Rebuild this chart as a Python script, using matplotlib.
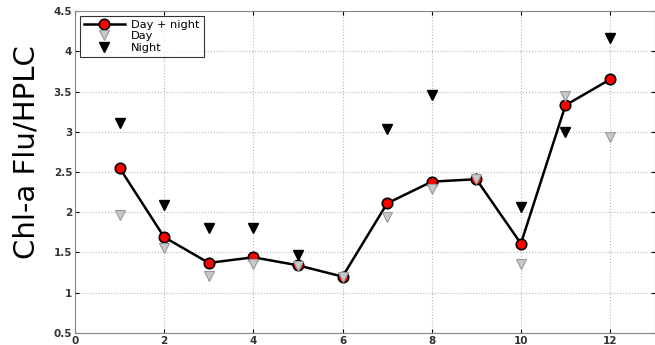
import numpy as np
import matplotlib
matplotlib.use("Agg")
import matplotlib.pyplot as plt

months = [1, 2, 3, 4, 5, 6, 7, 8, 9, 10, 11, 12]
day_night = [2.55, 1.69, 1.37, 1.44, 1.34, 1.20, 2.11, 2.38, 2.41, 1.61, 3.33, 3.65]
day = [1.97, 1.55, 1.21, 1.36, 1.33, 1.20, 1.94, 2.29, 2.41, 1.36, 3.45, 2.93]
night = [3.11, 2.09, 1.80, 1.80, 1.47, np.nan, 3.04, 3.46, np.nan, 2.07, 3.00, 4.17]

fig = plt.figure(figsize=(6.55, 3.45), dpi=100)
ax = fig.add_axes([0.1145, 0.035, 0.885, 0.933])

ax.plot(months, day_night, '-o', color='black', lw=1.8, ms=7.5,
        mfc='red', mec='black', mew=1.2, label='Day + night', zorder=3)
ax.plot(months, day, 'v', ls='none', ms=7.5, mfc='#c8c8c8', mec='#999999',
        mew=0.8, label='Day', zorder=4)
ax.plot(months, night, 'v', ls='none', ms=7.5, mfc='black', mec='black',
        label='Night', zorder=4)

ax.set_xlim(0, 13)
ax.set_ylim(0.5, 4.5)
ax.set_xticks([0, 2, 4, 6, 8, 10, 12])
ax.set_yticks(np.arange(0.5, 4.51, 0.5))
ax.set_yticklabels(['0.5', '1', '1.5', '2', '2.5', '3', '3.5', '4', '4.5'])
ax.grid(True, ls=':', color='#b8b8b8', lw=0.8)
ax.tick_params(direction='in', top=True, right=True, labelsize=7.5,
               length=3, pad=2)
for lab in ax.get_xticklabels() + ax.get_yticklabels():
    lab.set_fontweight('bold')
    lab.set_color('#333333')
for s in ax.spines.values():
    s.set_color('#888888')

ax.set_ylabel('Chl-a Flu/HPLC', fontsize=21)
ax.yaxis.set_label_coords(-0.06, 0.562)

leg = ax.legend(loc='upper left', fontsize=8.2, frameon=True, fancybox=False,
                edgecolor='black', borderpad=0.35, labelspacing=0.15,
                handlelength=3.6, handletextpad=0.6,
                bbox_to_anchor=(0.0, 1.0), borderaxespad=0.4)
leg.get_frame().set_linewidth(0.8)

fig.savefig('out.png', dpi=100)
